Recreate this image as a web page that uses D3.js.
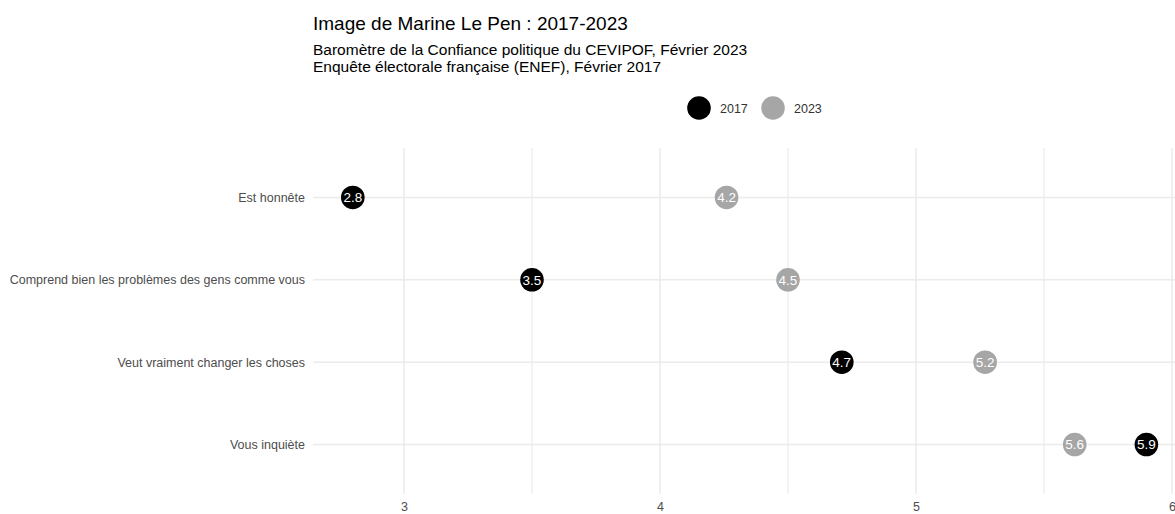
<!DOCTYPE html>
<html>
<head>
<meta charset="utf-8">
<script src="https://cdn.jsdelivr.net/npm/d3@7"></script>
<style>
  body { margin: 0; background: #fff; }
  svg text { font-family: "Liberation Sans", Arial, Helvetica, sans-serif; }
</style>
</head>
<body>
<div id="vis"></div>
<script>
const WIDTH = 1175;
const HEIGHT = 514;

// data
const categories = ["Est honnête", "Comprend bien les problèmes des gens comme vous",
                    "Veut vraiment changer les choses", "Vous inquiète"];
const years = ["2017", "2023"];
const values2017 = [2.8, 3.5, 4.71, 5.9];
const values2023 = [4.26, 4.5, 5.27, 5.62];
const labels2017 = ["2.8", "3.5", "4.7", "5.9"];
const labels2023 = ["4.2", "4.5", "5.2", "5.6"];
const xTicks = [3, 4, 5, 6];
const xMinorTicks = [3.5, 4.5, 5.5];

const COLORS = {"2017": "#000000", "2023": "#a6a6a6"};

const PANEL = {left: 313, right: 1175, top: 148, bottom: 494};

const svg = d3.select("#vis").append("svg")
    .attr("width", WIDTH)
    .attr("height", HEIGHT);

const X_SCALE = d3.scaleLinear().domain([3, 6]).range([404, 1172]);
const Y_SCALE = d3.scalePoint().domain(categories)
    .range([PANEL.top, PANEL.bottom]).padding(0.6);

// grid
const grid = svg.append("g");
grid.selectAll(".vminor").data(xMinorTicks).enter().append("line")
    .attr("x1", d => X_SCALE(d)).attr("x2", d => X_SCALE(d))
    .attr("y1", PANEL.top).attr("y2", PANEL.bottom)
    .attr("stroke", "#ebebeb").attr("stroke-width", 1.2);
grid.selectAll(".vmajor").data(xTicks).enter().append("line")
    .attr("x1", d => X_SCALE(d)).attr("x2", d => X_SCALE(d))
    .attr("y1", PANEL.top).attr("y2", PANEL.bottom)
    .attr("stroke", "#ebebeb").attr("stroke-width", 1.6);
grid.selectAll(".hmajor").data(categories).enter().append("line")
    .attr("x1", PANEL.left).attr("x2", PANEL.right)
    .attr("y1", d => Y_SCALE(d)).attr("y2", d => Y_SCALE(d))
    .attr("stroke", "#ebebeb").attr("stroke-width", 1.6);

// axes
const xAxis = svg.append("g")
    .attr("transform", "translate(0," + PANEL.bottom + ")")
    .call(d3.axisBottom(X_SCALE).tickValues(xTicks).tickSize(0).tickPadding(8)
        .tickFormat(d3.format("d")));
const yAxis = svg.append("g")
    .attr("transform", "translate(" + PANEL.left + ",0)")
    .call(d3.axisLeft(Y_SCALE).tickSize(0).tickPadding(8));
[xAxis, yAxis].forEach(a => {
    a.select(".domain").remove();
    a.selectAll("text").attr("fill", "#4d4d4d").style("font-size", "12.5px");
});

// points
const series = [
    {year: "2023", values: values2023, labels: labels2023},
    {year: "2017", values: values2017, labels: labels2017}
];
series.forEach(s => {
    const g = svg.append("g");
    const rows = categories.map((c, i) => ({cat: c, v: s.values[i], lab: s.labels[i]}));
    g.selectAll("circle").data(rows).enter().append("circle")
        .attr("cx", d => X_SCALE(d.v))
        .attr("cy", d => Y_SCALE(d.cat))
        .attr("r", 11.8)
        .attr("fill", COLORS[s.year]);
    g.selectAll("text").data(rows).enter().append("text")
        .attr("x", d => X_SCALE(d.v))
        .attr("y", d => Y_SCALE(d.cat))
        .attr("dy", "0.36em")
        .attr("text-anchor", "middle")
        .attr("fill", "#ffffff")
        .style("font-size", "13.5px")
        .text(d => d.lab);
});

// legend
const legend = svg.append("g").attr("transform", "translate(699,108)");
const lg = legend.selectAll("g").data(years).enter().append("g")
    .attr("transform", (d, i) => "translate(" + (i * 74) + ",0)");
lg.append("circle").attr("r", 11.8).attr("fill", d => COLORS[d]);
lg.append("text").attr("x", 21).attr("dy", "0.36em")
    .attr("fill", "#333").style("font-size", "12.5px").text(d => d);

// titles
svg.append("text").attr("x", 313).attr("y", 30)
    .attr("fill", "#000").style("font-size", "19px")
    .text("Image de Marine Le Pen : 2017-2023");
svg.append("text").attr("x", 313).attr("y", 55)
    .attr("fill", "#000").style("font-size", "15.5px")
    .text("Baromètre de la Confiance politique du CEVIPOF, Février 2023");
svg.append("text").attr("x", 313).attr("y", 72)
    .attr("fill", "#000").style("font-size", "15.5px")
    .text("Enquête électorale française (ENEF), Février 2017");
</script>
</body>
</html>
